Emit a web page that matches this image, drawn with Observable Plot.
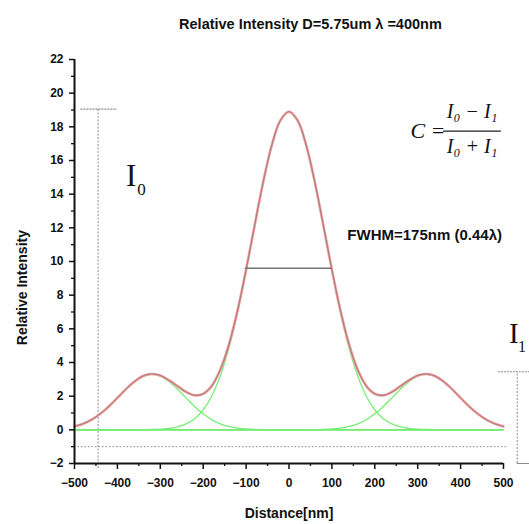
<!DOCTYPE html>
<html><head><meta charset="utf-8">
<script src="https://cdn.jsdelivr.net/npm/d3@7"></script>
<script src="https://cdn.jsdelivr.net/npm/@observablehq/plot@0.6"></script>
<style>body{margin:0;background:#fff} svg{display:block}</style>
</head><body><div id="chart"></div>
<script>
const distance = [-500,-480,-460,-440,-420,-400,-380,-360,-340,-320,-300,-280,-260,-240,-220,-200,-180,-160,-140,-120,-100,-80,-60,-40,-20,0,20,40,60,80,100,120,140,160,180,200,220,240,260,280,300,320,340,360,380,400,420,440,460,480,500];
const total = [0.20,0.36,0.60,0.95,1.39,1.90,2.42,2.87,3.20,3.32,3.23,2.95,2.60,2.25,2.05,2.14,2.61,3.58,5.07,7.08,9.51,12.16,14.74,16.92,18.38,18.90,18.38,16.92,14.74,12.16,9.51,7.08,5.07,3.58,2.61,2.14,2.05,2.25,2.60,2.95,3.23,3.32,3.20,2.87,2.42,1.90,1.39,0.95,0.60,0.36,0.20];
const centralFit = [0,0,0,0,0,0,0,0,0.01,0.02,0.04,0.08,0.18,0.35,0.66,1.19,2.01,3.22,4.87,6.98,9.46,12.14,14.73,16.92,18.38,18.90,18.38,16.92,14.73,12.14,9.46,6.98,4.87,3.22,2.01,1.19,0.66,0.35,0.18,0.08,0.04,0.02,0.01,0,0,0,0,0,0,0,0];
const leftFit = [0.20,0.36,0.60,0.95,1.39,1.90,2.42,2.87,3.19,3.30,3.19,2.87,2.42,1.90,1.39,0.95,0.60,0.36,0.20,0.10,0.05,0.02,0.01,0,0,0,0,0,0,0,0,0,0,0,0,0,0,0,0,0,0,0,0,0,0,0,0,0,0,0,0];
const rightFit = [0,0,0,0,0,0,0,0,0,0,0,0,0,0,0,0,0,0,0,0,0,0,0,0,0,0,0,0,0.01,0.02,0.05,0.10,0.20,0.36,0.60,0.95,1.39,1.90,2.42,2.87,3.19,3.30,3.19,2.87,2.42,1.90,1.39,0.95,0.60,0.36,0.20];

const yMajorTicks = [-2,0,2,4,6,8,10,12,14,16,18,20,22];
const yMinorTicks = [-1,1,3,5,7,9,11,13,15,17,19,21];
const xMajorTicks = [-500,-400,-300,-200,-100,0,100,200,300,400,500];
const xMinorTicks = [-450,-350,-250,-150,-50,50,150,250,350,450];

const titleText = "Relative Intensity D=5.75um \u03bb =400nm";
const xLabel = "Distance[nm]";
const yLabel = "Relative Intensity";
const fwhmLabel = "FWHM=175nm (0.44\u03bb)";
const i0Level = 19.05;
const i1Level = 3.45;
const fwhmLevel = 9.6;

const rows = distance.map((d, i) => ({d, total: total[i], central: centralFit[i], left: leftFit[i], right: rightFit[i]}));

const sans = "'Liberation Sans', Arial, sans-serif";
const serif = "'Liberation Serif', 'Times New Roman', serif";
const gray = "#8a8a8a";
const green = "#74ee74";
const one = [0];

const chart = Plot.plot({
  width: 529, height: 524,
  marginLeft: 74, marginRight: 26, marginTop: 59, marginBottom: 61,
  x: {domain: [-500, 500]},
  y: {domain: [-2, 22]},
  style: {fontFamily: sans, fontSize: "12px", color: "#111", background: "#fff"},
  marks: [
    // reference guides
    Plot.ruleY([-1], {x1: -500, x2: 512, stroke: gray, strokeWidth: 1, strokeDasharray: "1.5,2"}),
    Plot.ruleX([-445], {y1: -2.3, y2: i0Level, stroke: gray, strokeWidth: 1, strokeDasharray: "2,1.5"}),
    Plot.ruleY([i0Level], {x1: -485, x2: -400, stroke: gray, strokeWidth: 1.2, strokeDasharray: "2,1"}),
    Plot.ruleX([532], {y1: -2, y2: i1Level, stroke: gray, strokeWidth: 1, strokeDasharray: "2,1.5"}),
    Plot.ruleY([i1Level], {x1: 488, x2: 565, stroke: gray, strokeWidth: 1.2, strokeDasharray: "2,1"}),
    Plot.ruleY([-2], {x1: 532, x2: 565, stroke: gray, strokeWidth: 1}),
    // fits
    Plot.ruleY([0], {x1: -500, x2: 500, stroke: "#3ee03e", strokeWidth: 1.4}),
    Plot.line(rows, {x: "d", y: "left", stroke: green, strokeWidth: 1.3, curve: "catmull-rom"}),
    Plot.line(rows, {x: "d", y: "right", stroke: green, strokeWidth: 1.3, curve: "catmull-rom"}),
    Plot.line(rows, {x: "d", y: "central", stroke: green, strokeWidth: 1.3, curve: "catmull-rom"}),
    Plot.line(rows, {x: "d", y: "total", stroke: "#f29a9a", strokeWidth: 2.6, curve: "catmull-rom"}),
    Plot.line(rows, {x: "d", y: "total", stroke: "#666", strokeWidth: 0.8, strokeOpacity: 0.7, curve: "catmull-rom"}),
    // FWHM bar
    Plot.ruleY([fwhmLevel], {x1: -102, x2: 100, stroke: "#777", strokeWidth: 1.3}),
    // axes
    Plot.ruleX([-500], {y1: -2, y2: 22, stroke: "#111", strokeWidth: 2}),
    Plot.ruleY([-2], {x1: -500, x2: 500, stroke: "#111", strokeWidth: 2}),
    Plot.axisY({ticks: yMajorTicks, tickSize: 5, tickPadding: 6, strokeWidth: 1.5, label: null, fontSize: 12, fontWeight: "bold"}),
    Plot.axisY({ticks: yMinorTicks, tickSize: 3, tickFormat: () => "", strokeWidth: 1.3, label: null}),
    Plot.axisX({ticks: xMajorTicks, tickSize: 6, tickPadding: 9, strokeWidth: 1.5, label: null, fontSize: 12, fontWeight: "bold"}),
    Plot.axisX({ticks: xMinorTicks, tickSize: 3, tickFormat: () => "", strokeWidth: 1.3, label: null}),
    // texts
    Plot.text(one, {x: () => 50, y: () => 24.1, text: () => titleText, fontSize: 14.5, fontWeight: "bold", fontFamily: sans}),
    Plot.text(one, {x: () => -622, y: () => 8.45, text: () => yLabel, rotate: -90, fontSize: 14, fontWeight: "bold", fontFamily: sans}),
    Plot.text(one, {x: () => 0, y: () => -5.0, text: () => xLabel, fontSize: 14, fontWeight: "bold", fontFamily: sans}),
    Plot.text(one, {x: () => 136, y: () => 11.55, text: () => fwhmLabel, textAnchor: "start", fontSize: 15, fontWeight: "bold", fontFamily: sans}),
    // contrast formula
    Plot.text(one, {x: () => 283, y: () => 17.75, text: () => "C =", textAnchor: "start", fontSize: 22, fontStyle: "italic", fontFamily: serif}),
    Plot.text(one, {x: () => 427, y: () => 18.9, text: () => "I\u2080 \u2212 I\u2081", fontSize: 20, fontStyle: "italic", fontFamily: serif}),
    Plot.text(one, {x: () => 427, y: () => 16.8, text: () => "I\u2080 + I\u2081", fontSize: 20, fontStyle: "italic", fontFamily: serif}),
    Plot.ruleY([17.74], {x1: 360, x2: 495, stroke: "#222", strokeWidth: 1.2}),
    // I0 / I1 labels
    Plot.text(one, {x: () => -380, y: () => 15.06, text: () => "I", textAnchor: "start", fontSize: 31, fontFamily: serif}),
    Plot.text(one, {x: () => -354, y: () => 14.3, text: () => "0", textAnchor: "start", fontSize: 17, fontFamily: serif}),
    Plot.text(one, {x: () => 513, y: () => 5.71, text: () => "I", textAnchor: "start", fontSize: 29, fontFamily: serif}),
    Plot.text(one, {x: () => 534, y: () => 4.95, text: () => "1", textAnchor: "start", fontSize: 16, fontFamily: serif})
  ]
});
document.getElementById("chart").append(chart);
</script>
</body></html>
